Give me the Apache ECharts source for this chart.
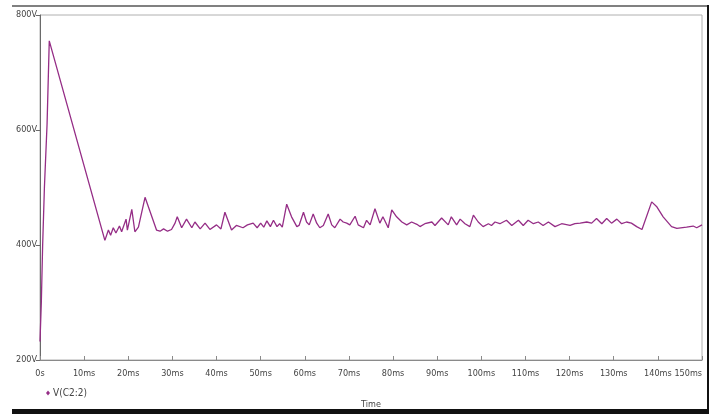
<!DOCTYPE html>
<html>
<head>
<meta charset="utf-8">
<script src="https://cdn.jsdelivr.net/npm/echarts@6/dist/echarts.min.js"></script>
<style>
html,body{margin:0;padding:0;background:#fff;}
#chart{width:716px;height:414px;}
</style>
</head>
<body>
<div id="chart"></div>
<script>
// time in ms
var timeMs = [0, 0.3, 0.6, 1.0, 1.6, 2.1, 14.7, 15.5, 16.0, 16.6, 17.2, 18.0, 18.5, 19.5, 19.8, 20.8, 21.5, 22.3, 23.8, 26.4, 27.2, 28.0, 28.9, 29.8, 30.6, 31.1, 32.1, 33.2, 34.4, 35.1, 36.3, 37.4, 38.5, 40.0, 41.0, 41.9, 43.4, 44.5, 46.0, 47.0, 48.3, 49.2, 50.0, 50.7, 51.4, 52.2, 52.9, 53.7, 54.3, 54.9, 55.9, 57.0, 58.2, 58.7, 59.7, 60.4, 61.0, 61.9, 62.7, 63.4, 64.2, 65.3, 66.1, 66.8, 68.0, 68.7, 69.5, 70.2, 71.4, 72.1, 73.3, 74.0, 74.8, 75.9, 77.0, 77.7, 78.9, 79.7, 80.8, 82.0, 83.1, 84.2, 85.4, 86.1, 87.2, 88.8, 89.5, 91.0, 92.5, 93.2, 94.4, 95.2, 96.3, 97.4, 98.2, 99.3, 100.4, 101.6, 102.3, 103.1, 104.2, 105.7, 106.9, 108.4, 109.5, 110.6, 111.8, 112.9, 114.0, 115.2, 116.7, 118.2, 120.1, 121.2, 122.4, 123.9, 125.0, 126.1, 127.3, 128.4, 129.5, 130.7, 131.8, 132.9, 134.0, 135.2, 136.4, 138.6, 139.7, 141.2, 143.1, 144.3, 146.5, 148.0, 148.8, 150];
// V(C2:2) in volts
var voltage = [232, 300, 400, 500, 610, 755, 408, 426, 417, 430, 421, 433, 423, 445, 426, 462, 423, 431, 483, 426, 424, 428, 424, 427, 438, 449, 430, 445, 430, 440, 428, 438, 427, 435, 428, 457, 426, 434, 430, 435, 438, 430, 438, 431, 442, 432, 443, 432, 437, 431, 471, 449, 432, 434, 457, 440, 435, 454, 438, 430, 434, 454, 435, 430, 445, 440, 438, 435, 450, 435, 430, 443, 435, 463, 438, 449, 430, 461, 449, 440, 435, 440, 436, 432, 437, 440, 434, 447, 435, 449, 435, 445, 437, 432, 452, 440, 432, 437, 434, 440, 437, 443, 434, 443, 434, 443, 437, 440, 434, 440, 432, 437, 434, 437, 438, 440, 438, 446, 437, 446, 438, 445, 437, 440, 438, 432, 427, 475, 467, 449, 432, 429, 431, 433, 430, 435];
var xTickLabels = ['0s','10ms','20ms','30ms','40ms','50ms','60ms','70ms','80ms','90ms','100ms','110ms','120ms','130ms','140ms','150ms'];
var yTickLabels = {200:'200V', 400:'400V', 600:'600V', 800:'800V'};
var seriesName = 'V(C2:2)';

var data = timeMs.map(function (t, i) { return [t, voltage[i]]; });
var font = "'DejaVu Sans Condensed', 'Liberation Sans Narrow', sans-serif";

var chart = echarts.init(document.getElementById('chart'), null, {renderer: 'canvas'});
chart.setOption({
  backgroundColor: '#ffffff',
  animation: false,
  grid: {left: 40, right: 14, top: 15, bottom: 54, show: true, borderColor: '#b0b0b0', borderWidth: 1},
  legend: {
    left: 41, top: 383, icon: 'diamond', itemWidth: 4, itemHeight: 5, itemGap: 2,
    data: [seriesName],
    textStyle: {fontFamily: font, fontSize: 10, color: '#444', padding: [0, 0, 0, -2]}
  },
  xAxis: {
    type: 'value', min: 0, max: 150, interval: 10,
    name: 'Time', nameLocation: 'middle', nameGap: 40,
    nameTextStyle: {fontFamily: font, fontSize: 9, color: '#444'},
    axisLine: {show: true, lineStyle: {color: '#8a8a8a', width: 1}},
    axisTick: {show: true, inside: true, length: 4, lineStyle: {color: '#8a8a8a'}},
    axisLabel: {
      fontFamily: font, fontSize: 9, color: '#444', margin: 9,
      showMinLabel: true, showMaxLabel: true,
      alignMaxLabel: 'right',
      formatter: function (v) { return xTickLabels[Math.round(v / 10)]; }
    },
    splitLine: {show: false}
  },
  yAxis: {
    type: 'value', min: 200, max: 800, interval: 200,
    axisLine: {show: true, lineStyle: {color: '#6a6a6a', width: 1}},
    axisTick: {show: true, inside: false, length: 4, lineStyle: {color: '#6a6a6a'}},
    axisLabel: {
      fontFamily: font, fontSize: 9, color: '#444', margin: 3,
      formatter: function (v) { return yTickLabels[v]; }
    },
    splitLine: {show: false}
  },
  series: [{
    name: seriesName, type: 'line', data: data, showSymbol: false, symbol: 'none',
    lineStyle: {color: '#952d86', width: 1.3},
    itemStyle: {color: '#952d86'}
  }],
  graphic: [
    {type: 'rect', shape: {x: 12, y: 5, width: 697, height: 2}, style: {fill: '#808080'}, silent: true},
    {type: 'rect', shape: {x: 707, y: 5, width: 2, height: 409}, style: {fill: '#111'}, silent: true},
    {type: 'rect', shape: {x: 12, y: 409, width: 697, height: 5}, style: {fill: '#111'}, silent: true}
  ]
});
</script>
</body>
</html>
